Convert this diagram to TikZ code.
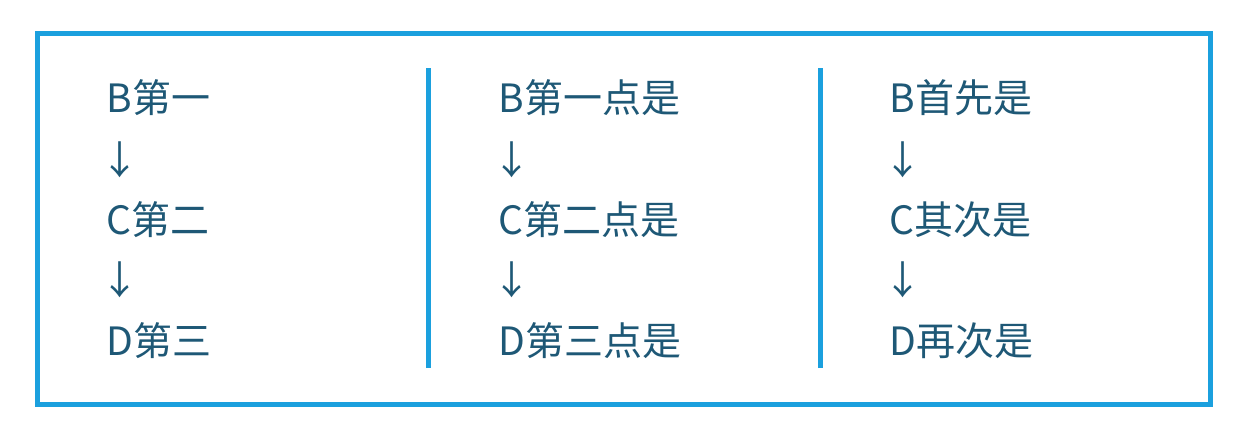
\documentclass[tikz,border=0pt]{standalone}
\usepackage{fontspec}
\setmainfont{Noto Sans CJK SC}
\definecolor{frameblue}{RGB}{27,160,222}
\definecolor{textblue}{RGB}{30,88,118}

\begin{document}
\begin{tikzpicture}[x=1pt,y=1pt,
  item/.style={anchor=base west,inner sep=0pt,text=textblue,font=\fontsize{39}{39}\selectfont},
  down/.style={item,xshift=-6pt,yshift=-3pt}]
\useasboundingbox (0,0) rectangle (1241,442);

% Draw frame, and the two dividers.
\draw[line width=5pt,color=frameblue] (37.5,37.5) rectangle (1210,408);
\draw[line width=5pt,color=frameblue] (428.5,74) -- (428.5,374);
\draw[line width=5pt,color=frameblue] (820,74) -- (820,374);

% First column.
\node[item] (b1) at (106.5,329) {B第一};
\node[down] (a11) at (106.5,270) {↓};
\node[item] (c1) at (106.5,207) {C第二};
\node[down] (a12) at (106.5,150) {↓};
\node[item] (d1) at (106.5,87) {D第三};

% Second column.
\node[item] (b2) at (498.5,329) {B第一点是};
\node[down] (a21) at (498.5,270) {↓};
\node[item] (c2) at (498.5,207) {C第二点是};
\node[down] (a22) at (498.5,150) {↓};
\node[item] (d2) at (498.5,87) {D第三点是};

% Third column.
\node[item] (b3) at (889.5,329) {B首先是};
\node[down] (a31) at (889.5,270) {↓};
\node[item] (c3) at (889.5,207) {C其次是};
\node[down] (a32) at (889.5,150) {↓};
\node[item] (d3) at (889.5,87) {D再次是};
\end{tikzpicture}
\end{document}
